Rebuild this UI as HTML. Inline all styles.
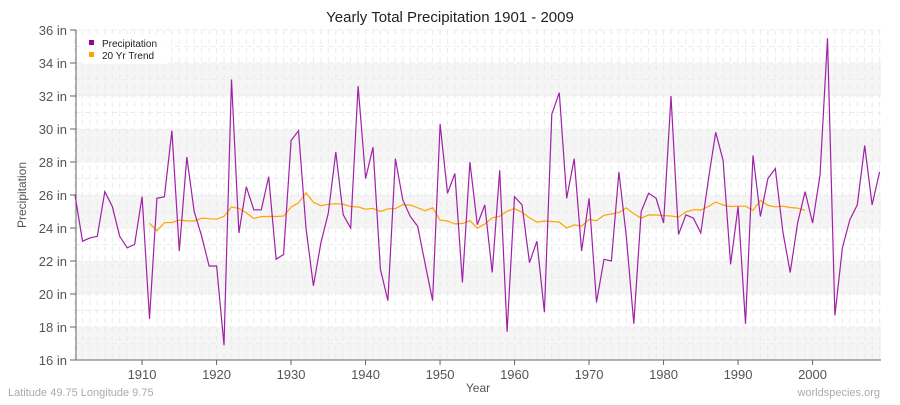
<!DOCTYPE html>
<html><head><meta charset="utf-8"><style>
body{margin:0;background:#fff;}
svg{font-family:"Liberation Sans",sans-serif;}
</style></head><body>
<svg id="s" width="900" height="400" xmlns="http://www.w3.org/2000/svg"></svg>
<script>
const d=[26.0,23.2,23.4,23.5,26.2,25.3,23.5,22.8,23.0,25.9,18.5,25.8,25.9,29.9,22.6,28.3,25.0,23.5,21.7,21.7,16.9,33.0,23.7,26.5,25.1,25.1,27.1,22.1,22.4,29.3,29.9,24.0,20.5,23.1,24.9,28.6,24.8,24.0,32.6,27.0,28.9,21.5,19.6,28.2,25.7,24.7,24.1,21.8,19.6,30.3,26.1,27.3,20.7,28.0,24.2,25.4,21.3,27.5,17.7,25.9,25.4,21.9,23.2,18.9,30.9,32.2,25.8,28.2,22.6,25.8,19.5,22.1,22.0,27.4,23.5,18.2,25.0,26.1,25.8,24.3,32.0,23.6,24.8,24.6,23.7,26.9,29.8,28.1,21.8,25.3,18.2,28.4,24.7,27.0,27.6,23.8,21.3,24.3,26.2,24.3,27.2,35.5,18.7,22.8,24.5,25.4,29.0,25.4,27.4];
const X=y=>75+(y-1901)*7.45, Y=v=>30+(36-v)*16.5;
let h='';
h+='<rect x="76" y="30" width="805" height="330" fill="#fff"/>';
for(let v=16;v<36;v+=4){h+=`<rect x="76" y="${Y(v+2)}" width="805" height="33" fill="#f5f5f5"/>`;}
for(let y=1901;y<=2009;y++){h+=`<line x1="${X(y)}" y1="30" x2="${X(y)}" y2="360" stroke="#ebebeb" stroke-dasharray="5,4"/>`;}
for(let v=16;v<=36;v++){h+=`<line x1="76" y1="${Y(v)}" x2="881" y2="${Y(v)}" stroke="#ececec" stroke-dasharray="5,4"/>`;}
h+=`<line x1="76" y1="30" x2="76" y2="360" stroke="#666"/><line x1="76" y1="360" x2="881" y2="360" stroke="#666"/>`;
for(let v=16;v<=36;v+=2){h+=`<line x1="70" y1="${Y(v)}" x2="76" y2="${Y(v)}" stroke="#666"/><text x="67" y="${Y(v)+5}" font-size="13" fill="#555" text-anchor="end">${v} in</text>`;}
for(let y=1910;y<=2000;y+=10){h+=`<line x1="${X(y)}" y1="360" x2="${X(y)}" y2="365" stroke="#666"/><text x="${X(y)}" y="379" font-size="13" fill="#555" text-anchor="middle">${y}</text>`;}
let p=d.map((v,i)=>`${X(1901+i).toFixed(1)},${Y(v).toFixed(1)}`).join(' ');
let t=[];for(let i=10;i<=98;i++){let s=0;for(let k=i-10;k<i+10;k++)s+=d[k];t.push(`${X(1901+i).toFixed(1)},${Y(s/20).toFixed(1)}`);}
h+=`<polyline points="${t.join(' ')}" fill="none" stroke="#ffa500" stroke-width="1.2"/>`;
h+=`<polyline points="${p}" fill="none" stroke="#a020a8" stroke-width="1.2"/>`;
h+=`<rect x="80" y="34" width="90" height="30" rx="4" fill="#fff" opacity="0.9"/><rect x="89" y="40" width="5" height="5" fill="#990099"/><text x="102" y="47" font-size="10" fill="#222">Precipitation</text><rect x="89" y="52" width="5" height="5" fill="#ffa500"/><text x="102" y="59" font-size="10" fill="#222">20 Yr Trend</text>`;
h+=`<text x="450" y="22" font-size="15" fill="#222" text-anchor="middle">Yearly Total Precipitation 1901 - 2009</text>`;
h+=`<text x="478" y="392" font-size="12" fill="#555" text-anchor="middle">Year</text>`;
h+=`<text x="26" y="195" font-size="12" fill="#555" text-anchor="middle" transform="rotate(-90 26 195)">Precipitation</text>`;
h+=`<text x="8" y="396" font-size="11" fill="#aaa">Latitude 49.75 Longitude 9.75</text><text x="880" y="396" font-size="11" fill="#aaa" text-anchor="end">worldspecies.org</text>`;
document.getElementById('s').innerHTML=h;
</script>
</body></html>
